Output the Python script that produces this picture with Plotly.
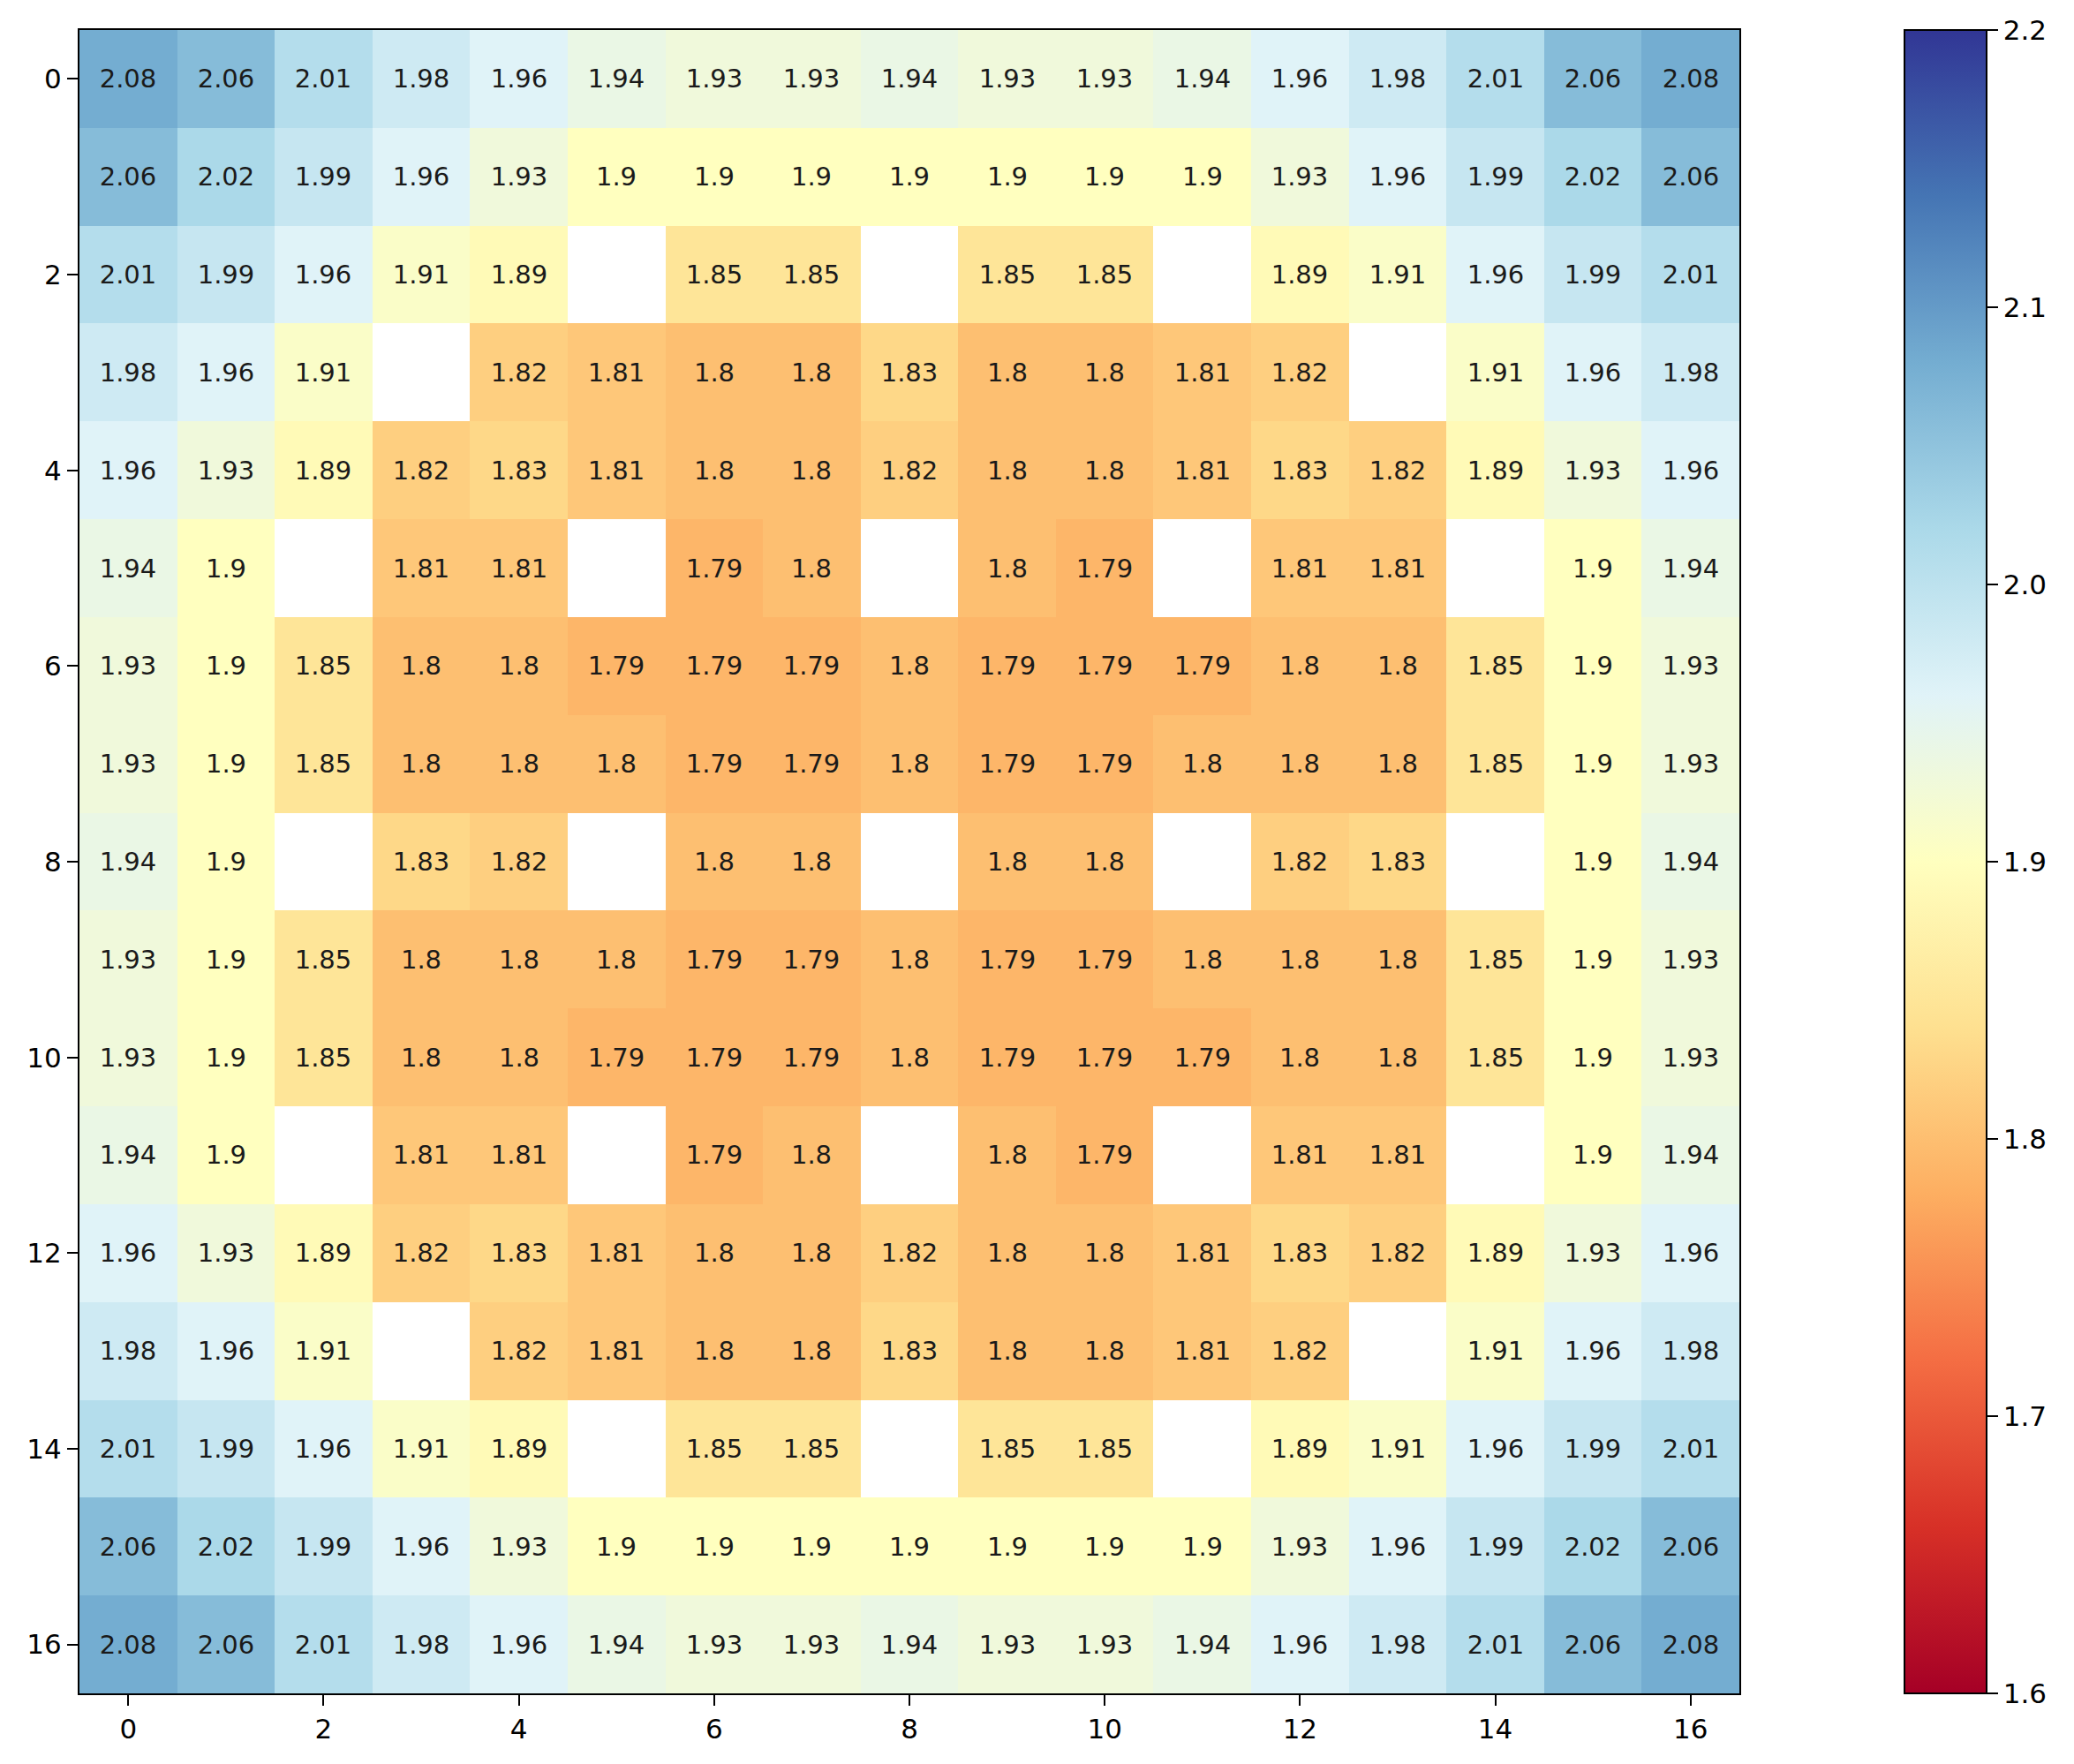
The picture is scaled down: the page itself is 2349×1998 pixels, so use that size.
import math
import plotly.graph_objects as go

nan = float("nan")

# 17x17 grid of values (NaN = blank cell)
row_0 = [2.08, 2.06, 2.01, 1.98, 1.96, 1.94, 1.93, 1.93, 1.94, 1.93, 1.93, 1.94, 1.96, 1.98, 2.01, 2.06, 2.08]
row_1 = [2.06, 2.02, 1.99, 1.96, 1.93, 1.9, 1.9, 1.9, 1.9, 1.9, 1.9, 1.9, 1.93, 1.96, 1.99, 2.02, 2.06]
row_2 = [2.01, 1.99, 1.96, 1.91, 1.89, nan, 1.85, 1.85, nan, 1.85, 1.85, nan, 1.89, 1.91, 1.96, 1.99, 2.01]
row_3 = [1.98, 1.96, 1.91, nan, 1.82, 1.81, 1.8, 1.8, 1.83, 1.8, 1.8, 1.81, 1.82, nan, 1.91, 1.96, 1.98]
row_4 = [1.96, 1.93, 1.89, 1.82, 1.83, 1.81, 1.8, 1.8, 1.82, 1.8, 1.8, 1.81, 1.83, 1.82, 1.89, 1.93, 1.96]
row_5 = [1.94, 1.9, nan, 1.81, 1.81, nan, 1.79, 1.8, nan, 1.8, 1.79, nan, 1.81, 1.81, nan, 1.9, 1.94]
row_6 = [1.93, 1.9, 1.85, 1.8, 1.8, 1.79, 1.79, 1.79, 1.8, 1.79, 1.79, 1.79, 1.8, 1.8, 1.85, 1.9, 1.93]
row_7 = [1.93, 1.9, 1.85, 1.8, 1.8, 1.8, 1.79, 1.79, 1.8, 1.79, 1.79, 1.8, 1.8, 1.8, 1.85, 1.9, 1.93]
row_8 = [1.94, 1.9, nan, 1.83, 1.82, nan, 1.8, 1.8, nan, 1.8, 1.8, nan, 1.82, 1.83, nan, 1.9, 1.94]
row_9 = [1.93, 1.9, 1.85, 1.8, 1.8, 1.8, 1.79, 1.79, 1.8, 1.79, 1.79, 1.8, 1.8, 1.8, 1.85, 1.9, 1.93]
row_10 = [1.93, 1.9, 1.85, 1.8, 1.8, 1.79, 1.79, 1.79, 1.8, 1.79, 1.79, 1.79, 1.8, 1.8, 1.85, 1.9, 1.93]
row_11 = [1.94, 1.9, nan, 1.81, 1.81, nan, 1.79, 1.8, nan, 1.8, 1.79, nan, 1.81, 1.81, nan, 1.9, 1.94]
row_12 = [1.96, 1.93, 1.89, 1.82, 1.83, 1.81, 1.8, 1.8, 1.82, 1.8, 1.8, 1.81, 1.83, 1.82, 1.89, 1.93, 1.96]
row_13 = [1.98, 1.96, 1.91, nan, 1.82, 1.81, 1.8, 1.8, 1.83, 1.8, 1.8, 1.81, 1.82, nan, 1.91, 1.96, 1.98]
row_14 = [2.01, 1.99, 1.96, 1.91, 1.89, nan, 1.85, 1.85, nan, 1.85, 1.85, nan, 1.89, 1.91, 1.96, 1.99, 2.01]
row_15 = [2.06, 2.02, 1.99, 1.96, 1.93, 1.9, 1.9, 1.9, 1.9, 1.9, 1.9, 1.9, 1.93, 1.96, 1.99, 2.02, 2.06]
row_16 = [2.08, 2.06, 2.01, 1.98, 1.96, 1.94, 1.93, 1.93, 1.94, 1.93, 1.93, 1.94, 1.96, 1.98, 2.01, 2.06, 2.08]

z = [row_0, row_1, row_2, row_3, row_4, row_5, row_6, row_7, row_8,
     row_9, row_10, row_11, row_12, row_13, row_14, row_15, row_16]
cols = list(range(17))
rows = list(range(17))
axis_ticks = [0, 2, 4, 6, 8, 10, 12, 14, 16]
cbar_ticks = [1.6, 1.7, 1.8, 1.9, 2.0, 2.1, 2.2]

# RdYlBu (colorbrewer, 11 steps)
rdylbu = ["#a50026", "#d73027", "#f46d43", "#fdae61", "#fee090", "#ffffbf",
          "#e0f3f8", "#abd9e9", "#74add1", "#4575b4", "#313695"]
cscale = [[i / 10, c] for i, c in enumerate(rdylbu)]

labels = [["" if math.isnan(v) else "{:g}".format(v) for v in r] for r in z]

fig = go.Figure(go.Heatmap(
    z=z, x=cols, y=rows,
    text=labels, texttemplate="%{text}",
    textfont=dict(family="DejaVu Sans", size=29, color="#1a1a1a"),
    colorscale=cscale, zmin=1.6, zmax=2.2,
    colorbar=dict(
        x=1.0995, xanchor="left", xpad=0,
        y=0.5, yanchor="middle", len=1, lenmode="fraction",
        ypad=0,
        thickness=93, thicknessmode="pixels",
        outlinewidth=2, outlinecolor="black",
        tickvals=cbar_ticks, ticktext=["1.6", "1.7", "1.8", "1.9", "2.0", "2.1", "2.2"],
        ticks="outside", ticklen=12, tickwidth=2, tickcolor="black",
        tickfont=dict(family="DejaVu Sans", size=31, color="black"),
    ),
    hoverongaps=False,
))

axis_common = dict(
    tickvals=axis_ticks, ticks="outside", ticklen=12, tickwidth=2, tickcolor="black",
    tickfont=dict(family="DejaVu Sans", size=31, color="black"),
    showline=True, linecolor="black", linewidth=2, mirror=True,
    showgrid=False, zeroline=False,
)

fig.update_xaxes(range=[-0.5, 16.5], **axis_common)
fig.update_yaxes(range=[16.5, -0.5], **axis_common)

# the page body adds an 8px offset, so margins are trimmed by 8 on left/top
fig.update_layout(
    width=2349, height=1998,
    margin=dict(l=82, r=387, t=26, b=88, autoexpand=False),
    plot_bgcolor="white", paper_bgcolor="white",
)

fig.write_html("out.html")
